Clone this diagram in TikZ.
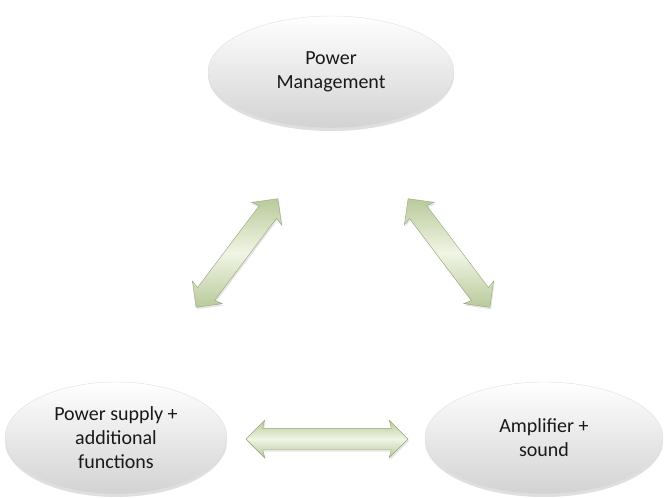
\documentclass[tikz,border=0pt]{standalone}
\usepackage{fontspec}
\setmainfont{Carlito}
\usetikzlibrary{shapes.geometric, shapes.arrows, shadows, positioning}
\definecolor{arrowlight}{HTML}{F0F5E4}
\definecolor{arrowdark}{HTML}{B9CA9B}
\definecolor{arrowedge}{HTML}{93A577}
\tikzset{
  blob/.style={ellipse, draw=gray!25, top color=white, bottom color=gray!35,
    drop shadow={opacity=0.25, shadow xshift=0pt, shadow yshift=-3pt},
    align=center, font=\fontsize{20}{24}\selectfont, text=black!90, inner sep=0pt},
  fatarrow/.style={double arrow, draw=arrowedge, thin, top color=arrowdark,
    bottom color=arrowdark, middle color=arrowlight, inner sep=10.5pt,
    drop shadow={opacity=0.2, shadow xshift=1pt, shadow yshift=-2pt},
    double arrow head extend=8pt, double arrow head indent=2pt}
}
\begin{document}
\begin{tikzpicture}[x=1pt,y=-1pt]
\useasboundingbox (0,0) rectangle (665,498);
\node[blob, minimum width=246pt, minimum height=112pt] (pm) at (331,72) {Power\\Management};
\node[blob, minimum width=222pt, minimum height=112pt] (ps) at (116,438) {Power supply +\\additional\\functions};
\node[blob, minimum width=238pt, minimum height=112pt] (amp) at (544,438) {Amplifier +\\sound};
% arrows between the blocks
\node[fatarrow, minimum height=136pt, rotate=53] (a1) at (237,253) {};
\node[fatarrow, minimum height=136pt, rotate=-53] (a2) at (449,253) {};
\node[fatarrow, minimum height=162pt] (a3) at (327,439) {};
\end{tikzpicture}
\end{document}
